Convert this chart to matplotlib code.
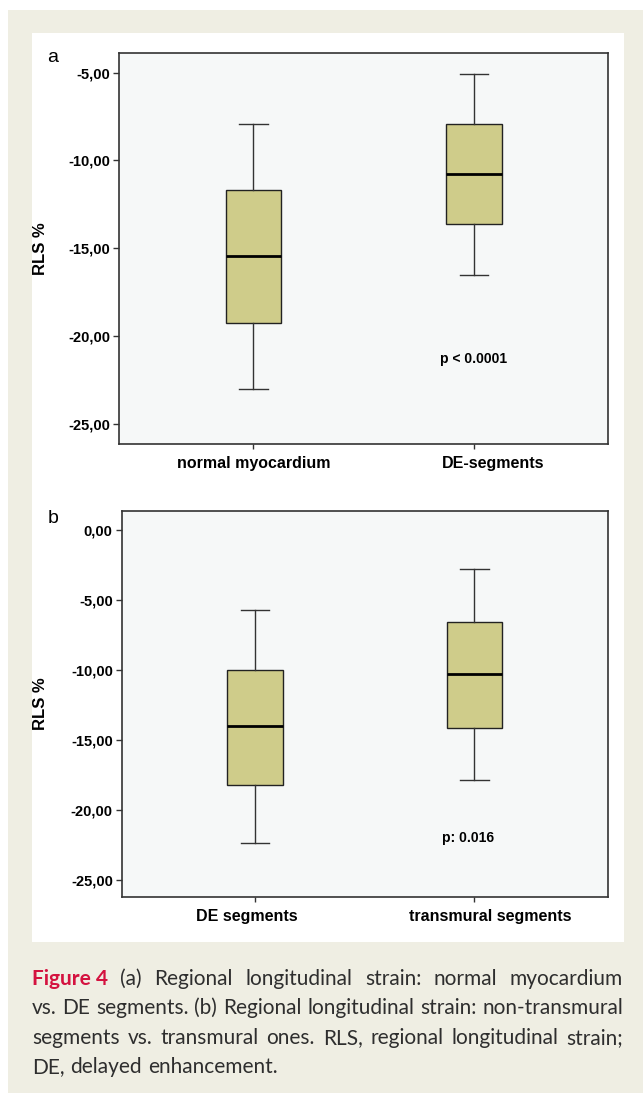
import matplotlib
matplotlib.use("Agg")
import matplotlib.pyplot as plt
from matplotlib.patches import Rectangle
from matplotlib.ticker import FuncFormatter
from matplotlib.transforms import ScaledTranslation

# Painel a: miocárdio normal vs. segmentos DE
cats_a = ["normal myocardium", "DE-segments"]
whislo_a = [-23.0, -16.5]
q1_a = [-19.25, -13.6]
med_a = [-15.45, -10.75]
q3_a = [-11.7, -7.95]
whishi_a = [-7.95, -5.1]
p_a = "p < 0.0001"

# Painel b: segmentos DE vs. transmurais
cats_b = ["DE segments", "transmural segments"]
whislo_b = [-22.3, -17.8]
q1_b = [-18.2, -14.1]
med_b = [-14.0, -10.3]
q3_b = [-9.95, -6.55]
whishi_b = [-5.7, -2.8]
p_b = "p: 0.016"

ticks_a = [-5, -10, -15, -20, -25]
ticks_b = [0, -5, -10, -15, -20, -25]

W, H = 643, 1093
fig = plt.figure(figsize=(W / 100, H / 100), dpi=100)
fig.patch.set_facecolor("white")

# fundo bege e painel branco
fig.patches.append(Rectangle((8 / W, 0), 1 - 8 / W, 1 - 10 / H, transform=fig.transFigure,
                             facecolor="#efeee3", edgecolor="none", zorder=-10))
fig.patches.append(Rectangle((32 / W, 1 - 942 / H), (624 - 32) / W, (942 - 33) / H,
                             transform=fig.transFigure, facecolor="white",
                             edgecolor="none", zorder=-9))

plt.rcParams["font.family"] = ["Liberation Sans", "DejaVu Sans"]


def fmt(v, pos):
    return f"{v:.2f}".replace(".", ",")


def painel(rect, cats, lo, q1, med, q3, hi, ylim, ticks, ptext, py, px, offsets, lpos):
    ax = fig.add_axes(rect)
    ax.set_facecolor("#f6f8f8")
    stats = []
    for i in range(len(cats)):
        stats.append({"whislo": lo[i], "q1": q1[i], "med": med[i], "q3": q3[i], "whishi": hi[i]})
    ax.bxp(stats, positions=[1, 2], widths=0.253, capwidths=0.13, showfliers=False,
           patch_artist=True,
           boxprops=dict(facecolor="#cfcc8a", edgecolor="#222222", linewidth=1.0),
           medianprops=dict(color="black", linewidth=2.0),
           whiskerprops=dict(color="#333333", linewidth=1.0),
           capprops=dict(color="#333333", linewidth=1.0))
    ax.set_xlim(0.39, 2.61)
    ax.set_ylim(*ylim)
    ax.set_yticks(ticks)
    ax.yaxis.set_major_formatter(FuncFormatter(fmt))
    ax.set_xticks([1, 2])
    ax.set_xticklabels(cats, fontsize=11.5, fontweight="bold")
    for lab in ax.get_yticklabels():
        lab.set_fontweight("bold")
    ax.tick_params(axis="y", labelsize=10.5, length=4.3, width=1, pad=2, color="#333333")
    ax.tick_params(axis="x", length=3.5, width=1, pad=5, color="#333333")
    for lab, dx in zip(ax.get_xticklabels(), offsets):
        lab.set_transform(lab.get_transform() + ScaledTranslation(dx / 100, 0, fig.dpi_scale_trans))
    for s in ax.spines.values():
        s.set_color("#333333")
        s.set_linewidth(1.2)
    ax.set_ylabel("RLS %", fontsize=12, fontweight="bold")
    ax.yaxis.set_label_coords(lpos, 0.5)
    ax.text(px, py, ptext, ha="center", va="center", fontsize=10, fontweight="bold")
    return ax


painel([119 / W, 1 - 444 / H, (608.3 - 119) / W, (444 - 53.3) / H],
       cats_a, whislo_a, q1_a, med_a, q3_a, whishi_a, (-26.14, -3.9), ticks_a,
       p_a, -21.3, 2.0, [0, 19], -0.145)
painel([121.5 / W, 1 - 897.3 / H, (608 - 121.5) / W, (897.3 - 510.7) / H],
       cats_b, whislo_b, q1_b, med_b, q3_b, whishi_b, (-26.2, 1.38), ticks_b,
       p_b, -22.0, 1.97, [-8, 16], -0.151)

fig.text(47 / W, 1 - 62 / H, "a", fontsize=14, va="baseline", ha="left")
fig.text(48 / W, 1 - 523 / H, "b", fontsize=14, va="baseline", ha="left")

# legenda justificada
linhas = [
    [("Figure 4", True)] + [(w, False) for w in "(a) Regional longitudinal strain: normal myocardium".split()],
    [(w, False) for w in "vs. DE segments. (b) Regional longitudinal strain: non-transmural".split()],
    [(w, False) for w in "segments vs. transmural ones. RLS, regional longitudinal strain;".split()],
    [(w, False) for w in "DE, delayed enhancement.".split()],
]
bases = [985, 1014.3, 1043.7, 1073]
x0, x1 = 32, 623
cap_size = 15
renderer = fig.canvas.get_renderer()
t_aa = fig.text(0, 0, "a a", fontsize=cap_size, family="Lato")
t_a2 = fig.text(0, 0, "aa", fontsize=cap_size, family="Lato")
w_sp = t_aa.get_window_extent(renderer).width - t_a2.get_window_extent(renderer).width
t_aa.remove()
t_a2.remove()

for k, (linha, base) in enumerate(zip(linhas, bases)):
    objs = []
    for palavra, negrito in linha:
        t = fig.text(0, 1 - base / H, palavra, fontsize=cap_size, family="Lato",
                     fontweight="bold" if negrito else "normal",
                     color="#d4123f" if negrito else "#2e2e2e", va="baseline", ha="left")
        objs.append((t, t.get_window_extent(renderer).width))
    total = sum(w for _, w in objs)
    if k < len(linhas) - 1:
        gap = max((x1 - x0 - total) / (len(objs) - 1), w_sp * 0.6)
    else:
        gap = w_sp * 1.1
    x = x0
    for t, w in objs:
        t.set_x(x / W)
        x += w + gap

fig.savefig("out.png", dpi=100, facecolor=fig.get_facecolor())
